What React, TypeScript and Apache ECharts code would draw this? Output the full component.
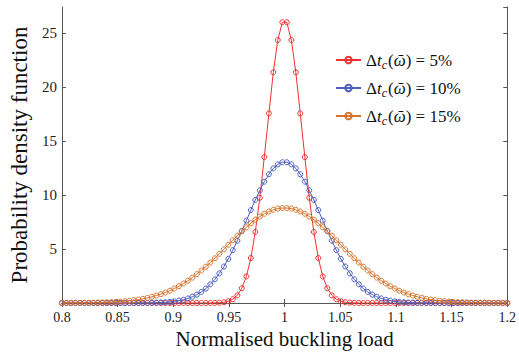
import React, { useEffect, useRef } from "react";
import * as echarts from "echarts";

// Normalised buckling load (100 sample points)
const loadX = [
  0.8000, 0.8040, 0.8081, 0.8121, 0.8162, 0.8202, 0.8242, 0.8283, 0.8323, 0.8364,
  0.8404, 0.8444, 0.8485, 0.8525, 0.8566, 0.8606, 0.8646, 0.8687, 0.8727, 0.8768,
  0.8808, 0.8848, 0.8889, 0.8929, 0.8970, 0.9010, 0.9051, 0.9091, 0.9131, 0.9172,
  0.9212, 0.9253, 0.9293, 0.9333, 0.9374, 0.9414, 0.9455, 0.9495, 0.9535, 0.9576,
  0.9616, 0.9657, 0.9697, 0.9737, 0.9778, 0.9818, 0.9859, 0.9899, 0.9939, 0.9980,
  1.0020, 1.0061, 1.0101, 1.0141, 1.0182, 1.0222, 1.0263, 1.0303, 1.0343, 1.0384,
  1.0424, 1.0465, 1.0505, 1.0545, 1.0586, 1.0626, 1.0667, 1.0707, 1.0747, 1.0788,
  1.0828, 1.0869, 1.0909, 1.0949, 1.0990, 1.1030, 1.1071, 1.1111, 1.1152, 1.1192,
  1.1232, 1.1273, 1.1313, 1.1354, 1.1394, 1.1434, 1.1475, 1.1515, 1.1556, 1.1596,
  1.1636, 1.1677, 1.1717, 1.1758, 1.1798, 1.1838, 1.1879, 1.1919, 1.1960, 1.2000,
];

// PDF for Δt_c = 5%
const pdf5 = [
  0, 0, 0, 0, 0, 0, 0, 0, 0, 0,
  0, 0, 0, 0, 0, 0, 0, 0, 0, 0,
  0, 0, 0, 0, 0, 0, 0, 0, 0, 0,
  0, 0, 0, 0, 0.01, 0.03, 0.07, 0.16, 0.35, 0.71,
  1.37, 2.46, 4.16, 6.58, 9.74, 13.51, 17.55, 21.36, 24.34, 25.99,
  25.99, 24.34, 21.36, 17.55, 13.51, 9.74, 6.58, 4.16, 2.46, 1.37,
  0.71, 0.35, 0.16, 0.07, 0.03, 0.01, 0, 0, 0, 0,
  0, 0, 0, 0, 0, 0, 0, 0, 0, 0,
  0, 0, 0, 0, 0, 0, 0, 0, 0, 0,
  0, 0, 0, 0, 0, 0, 0, 0, 0, 0,
];

// PDF for Δt_c = 10%
const pdf10 = [
  0, 0, 0, 0, 0, 0, 0, 0, 0, 0,
  0, 0, 0, 0, 0, 0, 0, 0.01, 0.01, 0.01,
  0.02, 0.03, 0.05, 0.07, 0.10, 0.15, 0.22, 0.30, 0.42, 0.58,
  0.78, 1.03, 1.34, 1.73, 2.19, 2.74, 3.38, 4.09, 4.89, 5.76,
  6.68, 7.63, 8.60, 9.54, 10.43, 11.23, 11.92, 12.46, 12.83, 13.03,
  13.03, 12.83, 12.46, 11.92, 11.23, 10.43, 9.54, 8.60, 7.63, 6.68,
  5.76, 4.89, 4.09, 3.38, 2.74, 2.19, 1.73, 1.34, 1.03, 0.78,
  0.58, 0.42, 0.30, 0.22, 0.15, 0.10, 0.07, 0.05, 0.03, 0.02,
  0.01, 0.01, 0.01, 0, 0, 0, 0, 0, 0, 0,
  0, 0, 0, 0, 0, 0, 0, 0, 0, 0,
];

// PDF for Δt_c = 15%
const pdf15 = [
  0.00, 0.01, 0.01, 0.01, 0.01, 0.02, 0.02, 0.03, 0.04, 0.05,
  0.07, 0.08, 0.11, 0.13, 0.17, 0.21, 0.26, 0.32, 0.39, 0.47,
  0.57, 0.69, 0.82, 0.97, 1.14, 1.34, 1.55, 1.80, 2.06, 2.35,
  2.67, 3.01, 3.36, 3.74, 4.14, 4.55, 4.97, 5.39, 5.81, 6.23,
  6.63, 7.01, 7.38, 7.71, 8.00, 8.26, 8.47, 8.63, 8.74, 8.79,
  8.79, 8.74, 8.63, 8.47, 8.26, 8.00, 7.71, 7.38, 7.01, 6.63,
  6.23, 5.81, 5.39, 4.97, 4.55, 4.14, 3.74, 3.36, 3.01, 2.67,
  2.35, 2.06, 1.80, 1.55, 1.34, 1.14, 0.97, 0.82, 0.69, 0.57,
  0.47, 0.39, 0.32, 0.26, 0.21, 0.17, 0.13, 0.11, 0.08, 0.07,
  0.05, 0.04, 0.03, 0.02, 0.02, 0.01, 0.01, 0.01, 0.01, 0.00,
];

const seriesNames = ["5%", "10%", "15%"];
const seriesColors = ["#f0302f", "#4c5ebf", "#d8732c"];
const seriesValues = [pdf5, pdf10, pdf15];

const xTitle = "Normalised buckling load";
const yTitle = "Probability density function";

const FONT = "Liberation Serif";

const fontCss = `html, body { margin: 0; overflow: hidden; } #root svg text, #root svg tspan { font-family: "Liberation Serif", "DejaVu Serif", serif !important; }`;

export default function App() {
  const ref = useRef<HTMLDivElement>(null);

  useEffect(() => {
    if (!ref.current) return;
    const chart = echarts.init(ref.current, undefined, { renderer: "svg" });

    const axisLine = { show: true, lineStyle: { color: "#555", width: 1 } };
    const tickIn = { show: true, inside: true, length: 4, lineStyle: { color: "#555" } };

    const option: any = {
      animation: false,
      backgroundColor: "#ffffff",
      textStyle: { fontFamily: FONT },
      grid: { left: 52, right: 10, top: 7, bottom: 52, containLabel: false },
      xAxis: [
        {
          type: "value",
          min: 0.8,
          max: 1.2,
          interval: 0.05,
          position: "bottom",
          axisLine,
          axisTick: tickIn,
          splitLine: { show: false },
          axisLabel: {
            fontFamily: FONT,
            fontSize: 14,
            color: "#222",
            margin: 7,
          },
          name: xTitle,
          nameLocation: "middle",
          nameGap: 23,
          nameTextStyle: { fontFamily: FONT, fontSize: 21, color: "#111" },
        },
        {
          type: "value",
          min: 0.8,
          max: 1.2,
          interval: 0.05,
          position: "top",
          axisLine,
          axisTick: tickIn,
          axisLabel: { show: false },
          splitLine: { show: false },
        },
      ],
      yAxis: [
        {
          type: "value",
          min: 0,
          max: 27.4,
          interval: 5,
          position: "left",
          axisLine,
          axisTick: tickIn,
          splitLine: { show: false },
          axisLabel: {
            fontFamily: FONT,
            fontSize: 15,
            color: "#222",
            margin: 5,
            showMaxLabel: false,
            formatter: (v: number) => (v === 0 ? "" : String(v)),
          },
          name: yTitle,
          nameLocation: "middle",
          nameGap: 28,
          nameRotate: 90,
          nameTextStyle: { fontFamily: FONT, fontSize: 23, color: "#111" },
        },
        {
          type: "value",
          min: 0,
          max: 27.4,
          interval: 5,
          position: "right",
          axisLine,
          axisTick: tickIn,
          axisLabel: { show: false },
          splitLine: { show: false },
        },
      ],
      legend: {
        orient: "vertical",
        left: 330,
        top: 44,
        itemWidth: 25,
        itemHeight: 8,
        itemGap: 6,
        data: seriesNames,
        formatter: (name: string) =>
          `{d|Δ}{i|t}{s|c}{n|(}{i|ῶ}{n|) = ${name}}`,
        textStyle: {
          fontFamily: FONT,
          fontSize: 17,
          color: "#111",
          rich: {
            d: { fontFamily: FONT, fontSize: 17, color: "#111", lineHeight: 20 },
            i: { fontFamily: FONT, fontSize: 17, fontStyle: "italic", color: "#111", lineHeight: 20 },
            s: {
              fontFamily: FONT,
              fontSize: 12,
              fontStyle: "italic",
              color: "#111",
              lineHeight: 12,
              padding: [10, 1, 0, 0],
            },
            n: { fontFamily: FONT, fontSize: 17, color: "#111", lineHeight: 20 },
          },
        },
      },
      series: seriesNames.map((name, si) => ({
        name,
        type: "line",
        xAxisIndex: 0,
        yAxisIndex: 0,
        data: loadX.map((x, k) => [x, seriesValues[si][k]]),
        symbol: "circle",
        symbolSize: 5,
        showSymbol: true,
        showAllSymbol: true,
        lineStyle: { color: seriesColors[si], width: 1 },
        itemStyle: {
          color: "rgba(255,255,255,0)",
          borderColor: seriesColors[si],
          borderWidth: 1,
        },
        emphasis: { disabled: true },
        z: 2 + si,
      })),
    };

    chart.setOption(option);
    return () => chart.dispose();
  }, []);

  return (
    <>
      <style>{fontCss}</style>
      <div
        ref={ref}
        style={{ position: "absolute", left: 0, top: 0, width: 519, height: 355 }}
      />
    </>
  );
}
